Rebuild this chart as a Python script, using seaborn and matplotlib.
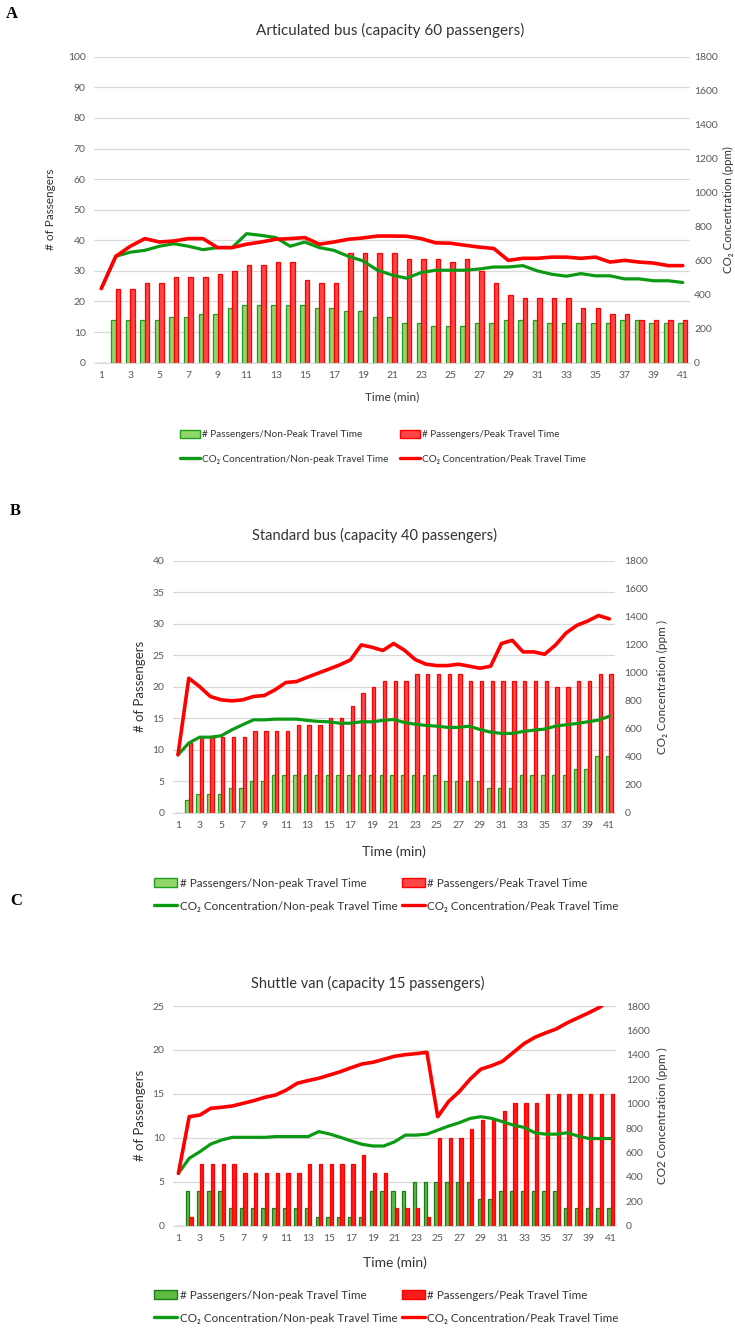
import numpy as np
import pandas as pd
import matplotlib
matplotlib.use("Agg")
import matplotlib.pyplot as plt
from matplotlib.patches import Patch
from matplotlib.lines import Line2D
import seaborn as sns

# ---------------- data ----------------
time_min = list(range(1, 42))

A_nonpeak_pass = [0,14,14,14,14,15,15,16,16,18,19,19,19,19,19,18,18,17,17,15,15,13,13,12,12,12,13,13,14,14,14,13,13,13,13,13,14,14,13,13,13]
A_peak_pass = [0,24,24,26,26,28,28,28,29,30,32,32,33,33,27,26,26,36,36,36,36,34,34,34,33,34,30,26,22,21,21,21,21,18,18,16,16,14,14,14,14]
A_co2_nonpeak = [436,626,650,661,685,700,685,665,677,677,759,749,736,685,710,677,661,626,599,544,516,497,530,544,544,544,551,563,563,571,540,520,509,524,511,511,493,493,482,482,472]
A_co2_peak = [436,626,685,730,710,716,730,730,677,677,697,710,726,730,736,697,710,726,734,745,745,744,730,705,703,691,680,672,602,614,614,621,621,614,621,592,602,592,586,571,571]

B_nonpeak_pass = [0,2,3,3,3,4,4,5,5,6,6,6,6,6,6,6,6,6,6,6,6,6,6,6,6,5,5,5,5,4,4,4,6,6,6,6,6,7,7,9,9]
B_peak_pass = [0,11,12,12,12,12,12,13,13,13,13,14,14,14,15,15,17,19,20,21,21,21,22,22,22,22,22,21,21,21,21,21,21,21,21,20,20,21,21,22,22]
B_co2_nonpeak = [414,498,540,540,550,593,629,664,664,669,669,669,660,653,650,640,640,650,650,660,667,645,633,624,619,610,610,619,595,576,567,567,581,590,598,619,629,638,650,662,690]
B_co2_peak = [414,962,902,831,807,800,807,831,838,879,931,938,969,998,1027,1057,1093,1200,1183,1160,1210,1162,1095,1062,1052,1052,1062,1048,1033,1048,1210,1233,1150,1150,1133,1198,1286,1340,1371,1410,1386]

C_nonpeak_pass = [0,4,4,4,4,2,2,2,2,2,2,2,2,1,1,1,1,1,4,4,4,4,5,5,5,5,5,5,3,3,4,4,4,4,4,4,2,2,2,2,2]
C_peak_pass = [0,1,7,7,7,7,6,6,6,6,6,6,7,7,7,7,7,8,6,6,2,2,2,1,10,10,10,11,12,12,13,14,14,14,15,15,15,15,15,15,15]
C_co2_nonpeak = [429,552,607,669,702,724,724,724,724,730,730,730,730,771,751,724,694,667,653,653,687,742,742,750,783,816,844,879,893,879,852,824,805,761,750,750,761,734,714,714,714]
C_co2_peak = [429,893,907,962,970,981,1003,1025,1052,1071,1112,1167,1189,1208,1235,1262,1295,1325,1339,1363,1388,1401,1410,1420,893,1017,1099,1201,1283,1311,1347,1420,1492,1544,1580,1613,1663,1704,1745,1790,1860]

titles = ["Articulated bus (capacity 60 passengers)",
          "Standard bus (capacity 40 passengers)",
          "Shuttle van (capacity 15 passengers)"]
panel_letters = ["A", "B", "C"]
left_max = [100, 40, 25]
left_step = [10, 5, 5]
right_labels = ["CO₂ Concentration (ppm)", "CO₂ Concentration (ppm )", "CO2 Concentration (ppm )"]
bar_labels_A = ["# Passengers/Non-Peak Travel Time", "# Passengers/Peak Travel Time"]
bar_labels_BC = ["# Passengers/Non-peak Travel Time", "# Passengers/Peak Travel Time"]
line_labels = ["CO₂ Concentration/Non-peak Travel Time", "CO₂ Concentration/Peak Travel Time"]

# ---------------- style ----------------
sns.set_style("white")
plt.rcParams['font.family'] = ['Lato', 'DejaVu Sans']

W, H = 735, 1328
fig = plt.figure(figsize=(W/100, H/100), dpi=100)

def fr(x0, y0, x1, y1):
    return [x0/W, 1 - y1/H, (x1-x0)/W, (y1-y0)/H]

panels = [
    dict(rect=fr(94, 56.7, 690, 362.7), nonpeak=A_nonpeak_pass, peak=A_peak_pass,
         co2n=A_co2_nonpeak, co2p=A_co2_peak,
         green_face="#92D66B", green_edge="#1E9E1E", red_face="#FF4545", red_edge="#FF0000",
         letter_xy=(6, 14), title_xy=(390, 30), title_fs=11,
         ylab_x=50, rlab_x=728, ylab_fs=8.5, rlab_fs=8.3, xlab_fs=8.5, tick_fs=7.5, rpad=3,
         xlab_y=397, leg_x=180, leg_y=430, leg_fs=7.2, leg_ls=1.5, leg_colsp=1.2,
         bar_labels=bar_labels_A),
    dict(rect=fr(172.6, 561, 614.7, 812.7), nonpeak=B_nonpeak_pass, peak=B_peak_pass,
         co2n=B_co2_nonpeak, co2p=B_co2_peak,
         green_face="#92D66B", green_edge="#1E9E1E", red_face="#FF4545", red_edge="#FF0000",
         letter_xy=(10, 511), title_xy=(375, 535), title_fs=10.5,
         ylab_x=140, rlab_x=662, ylab_fs=9.5, rlab_fs=8.5, xlab_fs=10, tick_fs=7.5, rpad=7,
         xlab_y=852, leg_x=154, leg_y=878, leg_fs=8.4, leg_ls=1.0, leg_colsp=0.38,
         bar_labels=bar_labels_BC),
    dict(rect=fr(173, 1006, 616, 1225.7), nonpeak=C_nonpeak_pass, peak=C_peak_pass,
         co2n=C_co2_nonpeak, co2p=C_co2_peak,
         green_face="#5DBB3F", green_edge="#1A7F1A", red_face="#FF1A1A", red_edge="#FF0000",
         letter_xy=(10, 901), title_xy=(368, 983), title_fs=10.5,
         ylab_x=140, rlab_x=662, ylab_fs=9.5, rlab_fs=8.5, xlab_fs=10, tick_fs=7.5, rpad=7,
         xlab_y=1263, leg_x=154, leg_y=1290, leg_fs=8.4, leg_ls=1.0, leg_colsp=0.38,
         bar_labels=bar_labels_BC),
]

GRAY = "#595959"
LINE_GREEN = "#0C9A14"
LINE_RED = "#FF0000"

for i, p in enumerate(panels):
    ax = fig.add_axes(p["rect"])
    bars = pd.DataFrame({
        "time": time_min * 2,
        "passengers": p["nonpeak"] + p["peak"],
        "period": ["Non-peak"] * 41 + ["Peak"] * 41,
    })
    sns.barplot(data=bars, x="time", y="passengers", hue="period",
                hue_order=["Non-peak", "Peak"], native_scale=True, width=0.62,
                palette={"Non-peak": p["green_face"], "Peak": p["red_face"]},
                ax=ax, legend=False, errorbar=None, saturation=1, linewidth=0.9)
    edges = [p["green_edge"], p["red_edge"]]
    for c, ec in zip(ax.containers, edges):
        for bar in c:
            bar.set_edgecolor(ec)
    ax.set_xlim(0.5, 41.5)
    ax.set_ylim(0, left_max[i])
    ax.set_yticks(np.arange(0, left_max[i] + 0.1, left_step[i]))
    ax.set_xticks(time_min[::2])
    ax.grid(axis="y", color="#D9D9D9", linewidth=0.9)
    ax.grid(axis="x", visible=False)
    ax.set_axisbelow(True)
    for s in ["top", "left", "right"]:
        ax.spines[s].set_visible(False)
    ax.spines["bottom"].set_color("#D9D9D9")
    ax.tick_params(axis="both", length=0, labelsize=p["tick_fs"], labelcolor=GRAY, pad=6)
    ax.set_xlabel("")
    ax.set_ylabel("")

    ax2 = ax.twinx()
    lines = pd.DataFrame({
        "time": time_min * 2,
        "co2": p["co2n"] + p["co2p"],
        "period": ["Non-peak"] * 41 + ["Peak"] * 41,
    })
    sns.lineplot(data=lines, x="time", y="co2", hue="period", hue_order=["Non-peak", "Peak"],
                 palette={"Non-peak": LINE_GREEN, "Peak": LINE_RED}, ax=ax2, legend=False,
                 linewidth=2.4, errorbar=None)
    lw = {LINE_GREEN: 2.3, LINE_RED: 2.6}
    for ln in ax2.get_lines():
        c = matplotlib.colors.to_hex(ln.get_color()).upper()
        ln.set_linewidth(2.6 if c == "#FF0000" else 2.3)
    ax2.set_ylim(0, 1800)
    ax2.set_yticks(np.arange(0, 1801, 200))
    ax2.set_xlim(0.5, 41.5)
    ax2.grid(False)
    for s in ["top", "left", "right", "bottom"]:
        ax2.spines[s].set_visible(False)
    ax2.tick_params(axis="y", length=0, labelsize=p["tick_fs"], labelcolor=GRAY, pad=p["rpad"])
    ax2.set_ylabel("")
    ax2.set_xlabel("")

    # texts
    lx, ly = p["letter_xy"]
    fig.text(lx / W, 1 - ly / H, panel_letters[i], fontsize=12, fontweight="bold",
             family=["Liberation Serif", "DejaVu Serif"], ha="left", va="center", color="black")
    tx, ty = p["title_xy"]
    fig.text(tx / W, 1 - ty / H, titles[i], fontsize=p["title_fs"], ha="center", va="center", color="#333333")
    yc = p["rect"][1] + p["rect"][3] / 2
    fig.text(p["ylab_x"] / W, yc, "# of Passengers", rotation=90, fontsize=p["ylab_fs"],
             ha="center", va="center", color="#333333")
    fig.text(p["rlab_x"] / W, yc, right_labels[i], rotation=90, fontsize=p["rlab_fs"],
             ha="center", va="center", color="#333333")
    xc = p["rect"][0] + p["rect"][2] / 2
    fig.text(xc, 1 - p["xlab_y"] / H, "Time (min)", fontsize=p["xlab_fs"], ha="center",
             va="center", color="#333333")

    handles = [
        Patch(facecolor=p["green_face"], edgecolor=p["green_edge"], linewidth=1),
        Line2D([0], [0], color=LINE_GREEN, linewidth=2.4),
        Patch(facecolor=p["red_face"], edgecolor=p["red_edge"], linewidth=1),
        Line2D([0], [0], color=LINE_RED, linewidth=2.4),
    ]
    labels = [p["bar_labels"][0], line_labels[0], p["bar_labels"][1], line_labels[1]]
    fig.legend(handles, labels, loc="upper left",
               bbox_to_anchor=(p["leg_x"] / W, 1 - p["leg_y"] / H),
               ncol=2, frameon=False, fontsize=p["leg_fs"], handlelength=2.0, handleheight=0.8,
               handletextpad=0.2, columnspacing=p["leg_colsp"], labelspacing=p["leg_ls"],
               borderpad=0, borderaxespad=0, labelcolor="#333333")

fig.savefig("out.png", dpi=100)
